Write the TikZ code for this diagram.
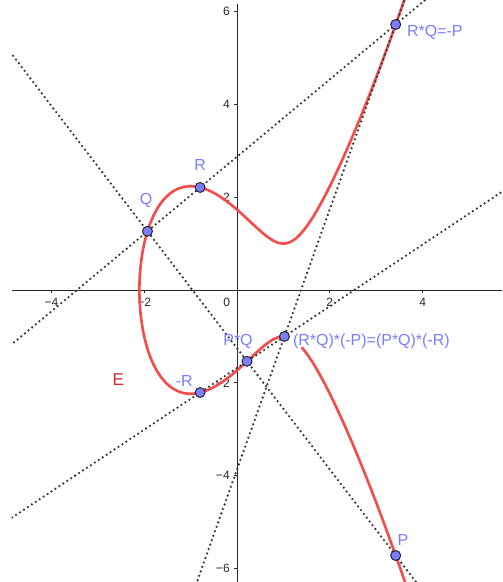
\documentclass[tikz,border=0pt]{standalone}
\usepackage{fontspec}
\setmainfont{Liberation Sans}
\usetikzlibrary{calc}
\definecolor{curvered}{RGB}{245,75,75}
\definecolor{ered}{RGB}{215,45,45}
\definecolor{ptblue}{RGB}{125,125,255}
\definecolor{dotgray}{RGB}{55,55,55}
\definecolor{axgray}{RGB}{40,40,40}
\begin{document}
\begin{tikzpicture}[x=1cm,y=1cm,
  curvestyle/.style={curvered, line width=1.6pt},
  dotline/.style={dotgray, line width=1.55pt, dash pattern=on 0pt off 2.9pt, line cap=round},
  axisline/.style={axgray, line width=0.6pt},
  pt/.style={circle, fill=ptblue, draw=black!85, line width=0.6pt, inner sep=0pt, minimum size=0.215cm},
  ptlabel/.style={text=ptblue, font=\fontsize{9.8}{11}\selectfont, inner sep=0pt},
  ticklabel/.style={text=axgray, font=\fontsize{7.4}{8}\selectfont, inner sep=0pt},
  declare function={qq(\x)=(\x)*(\x)-2.1038*(\x)+1.4260;}
]
\useasboundingbox (-5.108,-6.293) rectangle (5.711,6.250);
\fill[white] (-5.108,-6.293) rectangle (5.711,6.250);
% axes
\coordinate (xl) at (-4.86,0);
\coordinate (xr) at (5.711,0);
\coordinate (yb) at (0,-6.293);
\coordinate (yt) at (0,6.164);
\draw[axisline] (xl) -- (xr);
\draw[axisline] (yb) -- (yt);
\foreach \v/\t in {-4/−4,-2/−2,2/2,4/4}{
  \draw[axisline] (\v,0) -- (\v,-0.07);
  \node[ticklabel] (xt\v) at (\v,-0.26) {\t};
}
\foreach \v/\t in {-6/−6,-4/−4,-2/−2,2/2,4/4,6/6}{
  \draw[axisline] (0,\v) -- (-0.07,\v);
  \node[ticklabel, anchor=east] (yt\v) at (-0.15,\v) {\t};
}
\node[ticklabel] (zero) at (-0.22,-0.26) {0};
% points
\coordinate (Q) at (-1.93,1.2653);
\coordinate (R) at (-0.79606,2.2099);
\coordinate (mR) at (-0.79606,-2.2099);
\coordinate (mP) at (3.42,5.7220);
\coordinate (P) at (3.42,-5.7220);
\coordinate (PQ) at (0.21574,-1.53712);
\coordinate (T) at (1.0225,-1.0006);
\begin{scope}
\clip (-4.86,-6.293) rectangle (5.711,6.250);
% curve E
\draw[curvestyle] plot[domain=-1.790:2.45, samples=300, variable=\t, smooth]
  ({-2.1038+(\t)*(\t)}, {(\t)*sqrt(qq(-2.1038+(\t)*(\t)))});
\draw[curvestyle] plot[domain=-2.45:-1.869, samples=80, variable=\t, smooth]
  ({-2.1038+(\t)*(\t)}, {(\t)*sqrt(qq(-2.1038+(\t)*(\t)))});
% dotted lines
\draw[dotline] ($(Q)!-12cm!(mP)$) -- ($(mP)!-12cm!(Q)$);
\draw[dotline] ($(Q)!-12cm!(P)$) -- ($(P)!-12cm!(Q)$);
\draw[dotline] ($(mR)!-12cm!(T)$) -- ($(T)!-12cm!(mR)$);
\draw[dotline] ($(T)!-12cm!(mP)$) -- ($(mP)!-12cm!(T)$);
\end{scope}
% point markers
\node[pt] (Qd) at (Q) {};
\node[pt] (Rd) at (R) {};
\node[pt] (mRd) at (mR) {};
\node[pt] (mPd) at (mP) {};
\node[pt] (Pd) at (P) {};
\node[pt] (PQd) at (PQ) {};
\node[pt] (Td) at (T) {};
% labels
\node[ptlabel] (Ql) at (-1.961,1.940) {Q};
\node[ptlabel] (Rl) at (-0.797,2.694) {R};
\node[ptlabel, anchor=west] (mPl) at (3.657,5.554) {R*Q=-P};
\node[ptlabel] (PQl) at (0.0216,-1.099) {P*Q};
\node[ptlabel, anchor=east] (mRl) at (-0.948,-1.955) {-R};
\node[ptlabel, anchor=west] (Tl) at (1.200,-1.099) {(R*Q)*(-P)=(P*Q)*(-R)};
\node[ptlabel] (Pl) at (3.578,-5.388) {P};
\node[text=ered, font=\fontsize{10.5}{12}\selectfont, inner sep=0pt] (El) at (-2.558,-1.940) {E};
\end{tikzpicture}
\end{document}
